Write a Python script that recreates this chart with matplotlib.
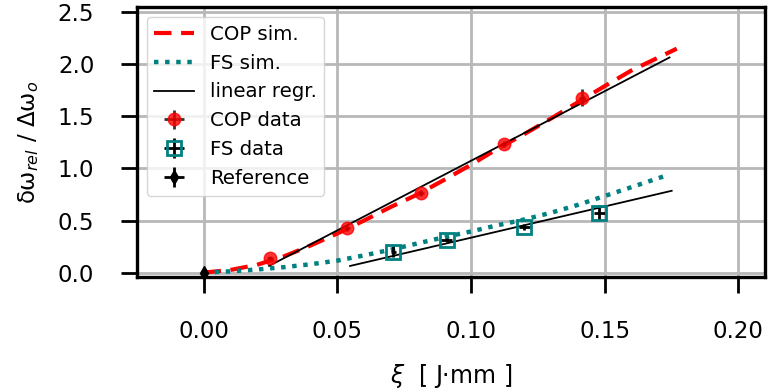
import numpy as np
import matplotlib
matplotlib.use("Agg")
import matplotlib.pyplot as plt

# ---- data ----
cop_sim_x = [0.0, 0.01, 0.02, 0.03, 0.04, 0.05, 0.06, 0.07, 0.08, 0.09, 0.10,
             0.11, 0.12, 0.13, 0.14, 0.15, 0.16, 0.177]
cop_sim_y = [0.0, 0.025, 0.075, 0.155, 0.26, 0.375, 0.5, 0.63, 0.75, 0.89, 1.035,
             1.19, 1.33, 1.48, 1.635, 1.79, 1.94, 2.15]

fs_sim_x = [0.0, 0.01, 0.02, 0.03, 0.04, 0.05, 0.06, 0.07, 0.08, 0.09, 0.10,
            0.11, 0.12, 0.13, 0.14, 0.15, 0.16, 0.174]
fs_sim_y = [0.0, 0.012, 0.03, 0.052, 0.08, 0.115, 0.165, 0.22, 0.28, 0.34, 0.395,
            0.455, 0.51, 0.575, 0.65, 0.735, 0.82, 0.94]

cop_x = [0.0249, 0.0538, 0.0813, 0.1122, 0.1416]
cop_y = [0.138, 0.426, 0.767, 1.234, 1.68]
cop_xerr = [0.001, 0.001, 0.001, 0.001, 0.001]
cop_yerr = [0.02, 0.03, 0.03, 0.03, 0.08]

fs_x = [0.071, 0.091, 0.120, 0.148]
fs_y = [0.201, 0.313, 0.435, 0.575]
fs_xerr = [0.001, 0.002, 0.002, 0.002]
fs_yerr = [0.05, 0.02, 0.03, 0.07]

ref_x = [0.0]
ref_y = [0.0]
ref_xerr = [0.001]
ref_yerr = [0.03]

cop_fit_range = [0.0245, 0.1743]
cop_fit_slope, cop_fit_intercept = 13.36, -0.263
fs_fit_range = [0.0548, 0.1751]
fs_fit_slope, fs_fit_intercept = 6.0, -0.265

xticks = [0.00, 0.05, 0.10, 0.15, 0.20]
yticks = [0.0, 0.5, 1.0, 1.5, 2.0, 2.5]

# ---- figure ----
fig = plt.figure(figsize=(7.68, 3.92), dpi=100)
ax = fig.add_axes([136.7 / 768, 1 - 277.3 / 392, (765 - 136.7) / 768, (277.3 - 7) / 392])

ax.plot(cop_sim_x, cop_sim_y, color='red', ls='--', lw=3, dashes=(4.2, 2.3), label='COP sim.', zorder=3)
ax.plot(fs_sim_x, fs_sim_y, color='teal', ls=':', lw=3.2, dashes=(1, 1.5), label='FS sim.', zorder=3)

fx = np.array(cop_fit_range)
ax.plot(fx, cop_fit_slope * fx + cop_fit_intercept, color='black', lw=1.3, label='linear regr.', zorder=4)
fx2 = np.array(fs_fit_range)
ax.plot(fx2, fs_fit_slope * fx2 + fs_fit_intercept, color='black', lw=1.3, zorder=4)

ax.errorbar(cop_x, cop_y, xerr=cop_xerr, yerr=cop_yerr, fmt='o', color='red', alpha=0.8,
            ms=9, ecolor='black', elinewidth=2, capsize=0, label='COP data', zorder=5)
ax.errorbar(fs_x, fs_y, xerr=fs_xerr, yerr=fs_yerr, fmt='s', mfc='none', mec='teal', mew=2,
            ms=9.5, ecolor='black', elinewidth=2, capsize=0, label='FS data', zorder=5)
ax.errorbar(ref_x, ref_y, xerr=ref_xerr, yerr=ref_yerr, fmt='d', color='black', ms=7,
            ecolor='black', elinewidth=2, capsize=0, label='Reference', zorder=6, clip_on=False)

ax.set_xlim(-0.025, 0.21)
ax.set_ylim(-0.045, 2.55)
ax.set_xticks(xticks)
ax.set_yticks(yticks)
ax.set_xticklabels([f"{v:.2f}" for v in xticks])
ax.set_yticklabels([f"{v:.1f}" for v in yticks])

ax.grid(True, color='#b8b8b8', lw=2)
ax.set_axisbelow(True)
for s in ax.spines.values():
    s.set_linewidth(2.4)
    s.set_color('black')
ax.tick_params(axis='both', which='major', direction='out', length=11.5, width=2,
               pad=19, labelsize=16.5, colors='black')

ax.set_xlabel(r"$\xi$  [ J$\cdot$mm ]", fontsize=17, labelpad=14)
ax.set_ylabel(r"δω$_{rel}$ / Δω$_o$", fontsize=16.5, labelpad=12)

ax.legend(loc='upper left', fontsize=14.2, labelspacing=0.5, handlelength=2.0,
          borderaxespad=0.5, framealpha=0.8, borderpad=0.4)

fig.savefig("out.png", dpi=100)
